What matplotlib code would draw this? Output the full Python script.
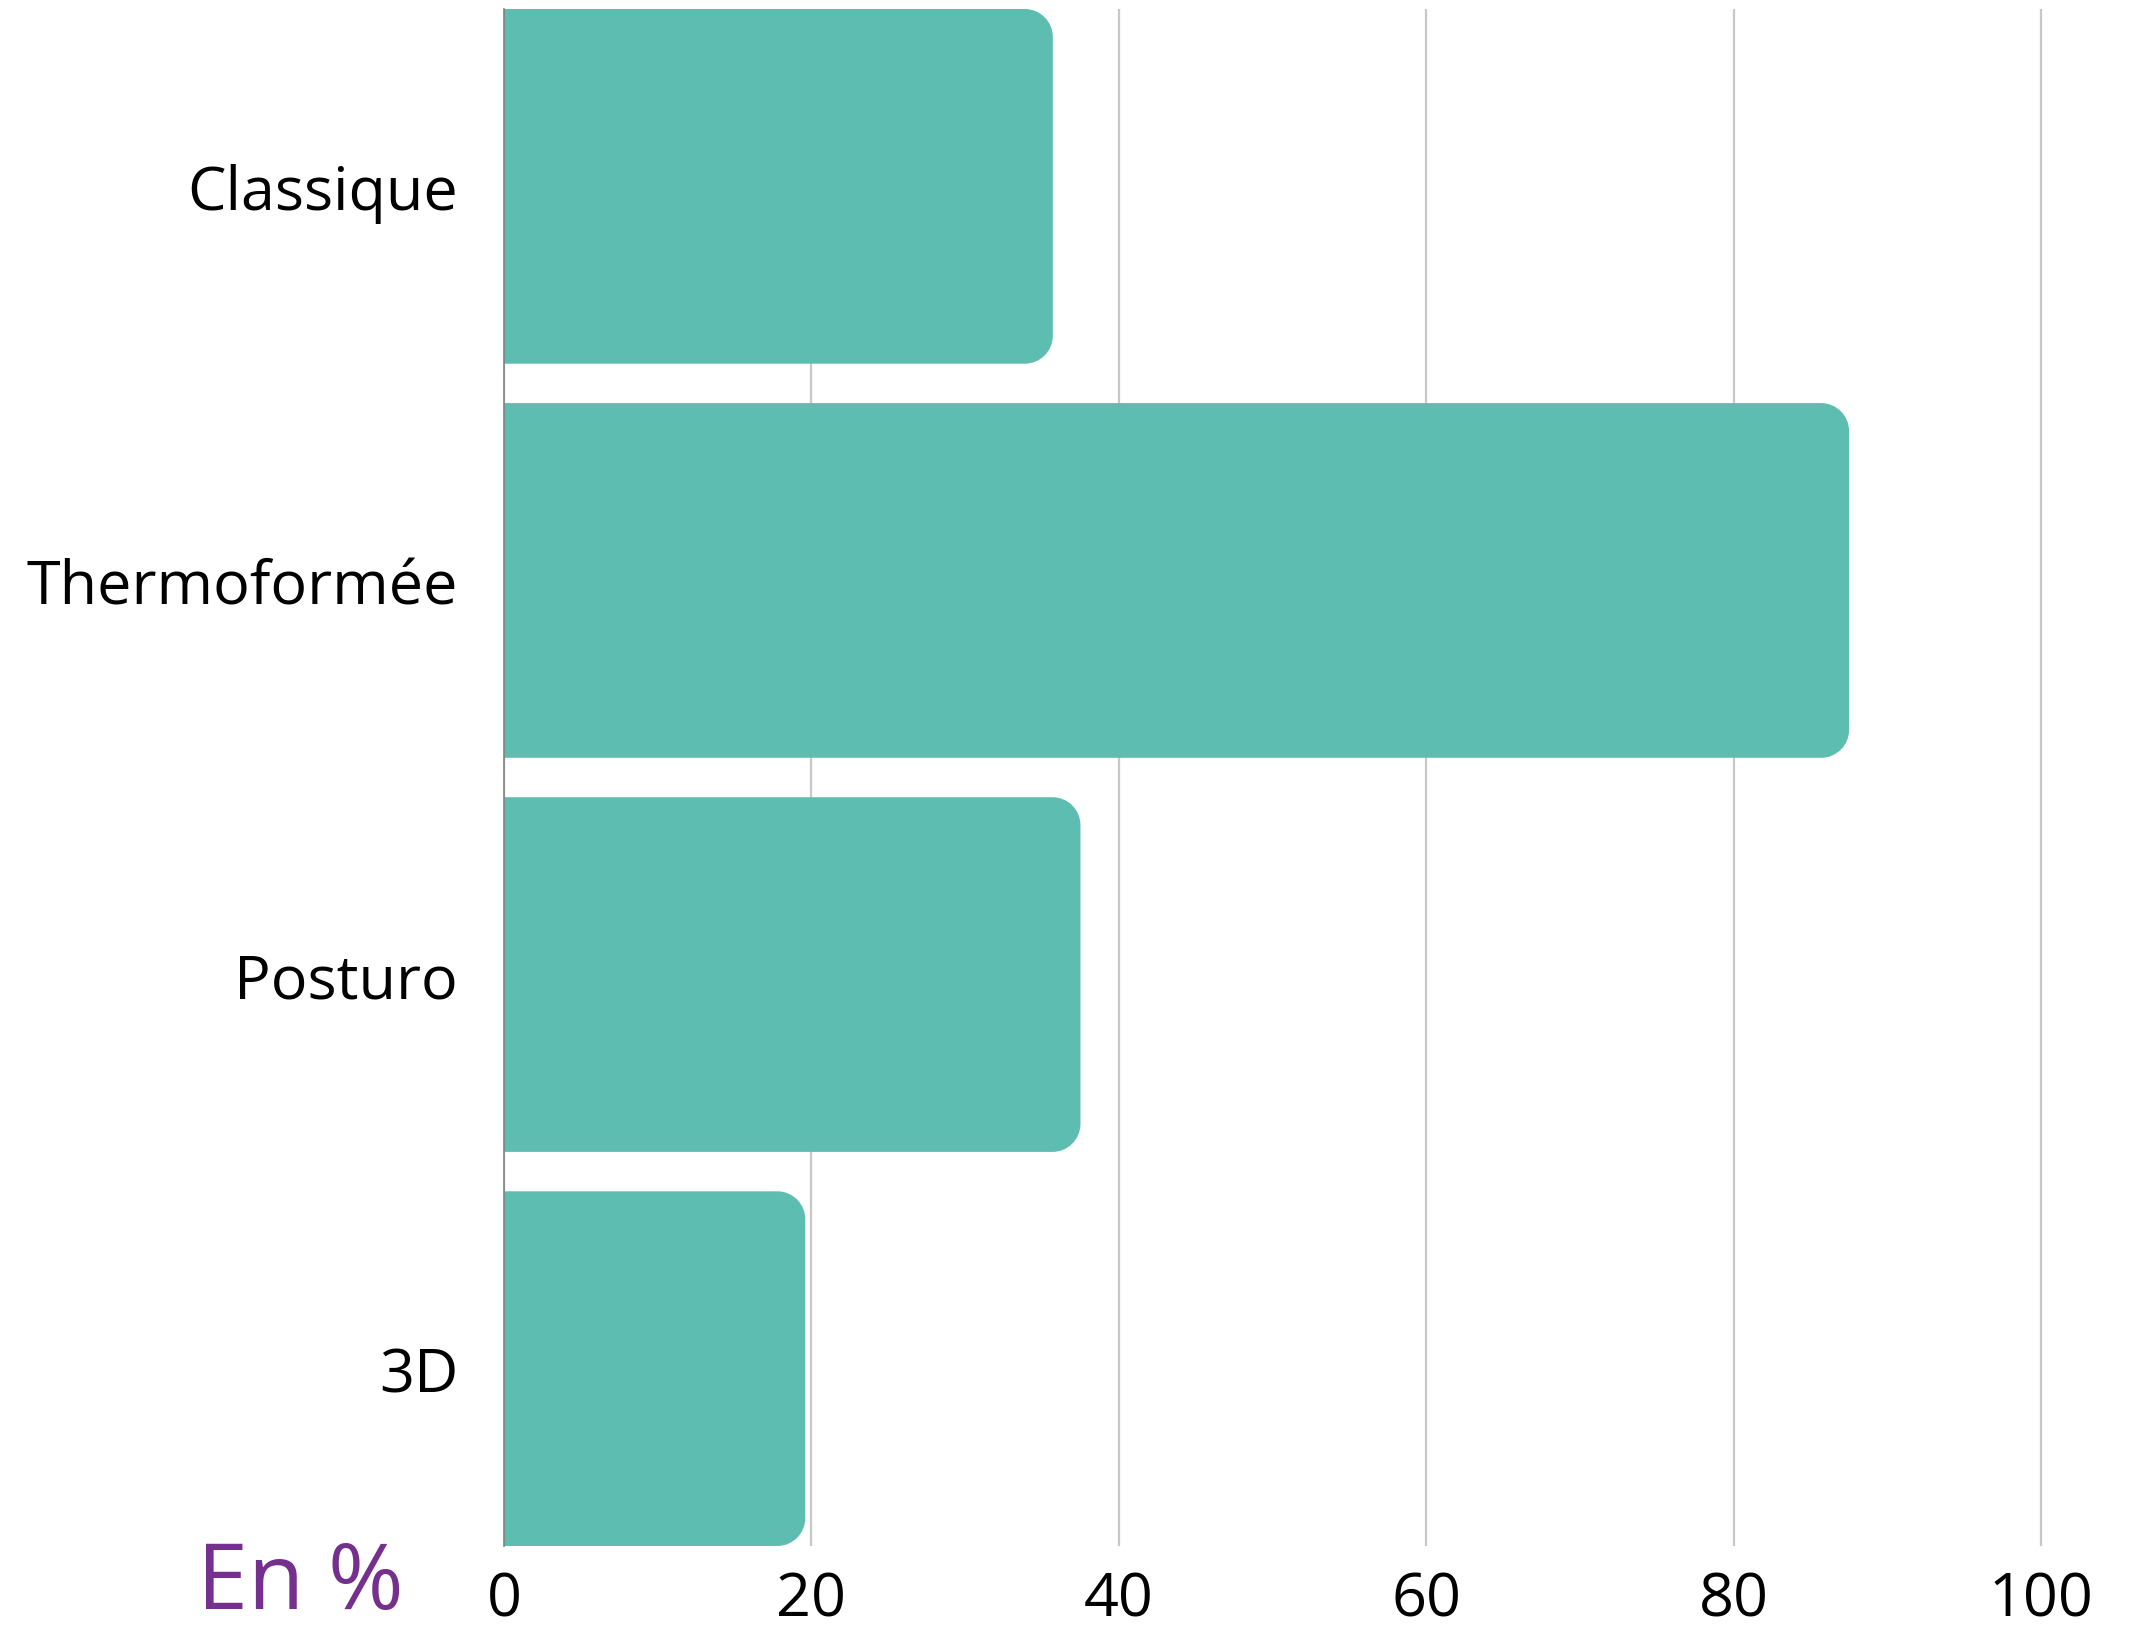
import matplotlib
matplotlib.use('Agg')
import matplotlib.pyplot as plt
from matplotlib.patches import PathPatch
from matplotlib.path import Path

# données
categories = ['Classique', 'Thermoformée', 'Posturo', '3D']
valeurs = [35.7, 87.5, 37.5, 19.6]
ticks_x = [0, 20, 40, 60, 80, 100]

couleur_barre = '#5EBDB1'
plt.rcParams['font.family'] = ['Open Sans', 'DejaVu Sans']

W, H, DPI = 2132, 1631, 100
fig = plt.figure(figsize=(W / DPI, H / DPI), dpi=DPI)
ax = fig.add_axes([504 / W, 84 / H, 1568 / W, 1537 / H])

xmax = 102
ax.set_xlim(0, xmax)
ax.set_ylim(3.45, -0.45)

# barres de base (pour la géométrie), puis bout arrondi à droite
bars = ax.barh(range(len(categories)), valeurs, height=0.9, color=couleur_barre, alpha=0)

# échelle en pixels pour que l'arrondi soit bien circulaire
px_x = 1568 / xmax
px_y = 1537 / 3.9
rayon = 28
rx, ry = rayon / px_x, rayon / px_y
k = 0.5523  # approximation de Bézier pour un quart de cercle


def barre_arrondie(x0, y0, w, h):
    x1, y1 = x0 + w, y0 + h
    verts = [
        (x0, y0),
        (x1 - rx, y0),
        (x1 - rx + k * rx, y0), (x1, y0 + ry - k * ry), (x1, y0 + ry),
        (x1, y1 - ry),
        (x1, y1 - ry + k * ry), (x1 - rx + k * rx, y1), (x1 - rx, y1),
        (x0, y1),
        (x0, y0),
    ]
    codes = [Path.MOVETO, Path.LINETO,
             Path.CURVE4, Path.CURVE4, Path.CURVE4,
             Path.LINETO,
             Path.CURVE4, Path.CURVE4, Path.CURVE4,
             Path.LINETO, Path.CLOSEPOLY]
    return Path(verts, codes)


for b in bars:
    p = barre_arrondie(b.get_x(), b.get_y(), b.get_width(), b.get_height())
    ax.add_patch(PathPatch(p, facecolor=couleur_barre, edgecolor='none', zorder=3))

ax.set_yticks(range(len(categories)))
ax.set_yticklabels(categories)
ax.set_xticks(ticks_x)
ax.set_xticklabels([str(t) for t in ticks_x])
ax.tick_params(axis='y', length=0, pad=33, labelsize=44)
ax.tick_params(axis='x', length=0, pad=17, labelsize=44)

ax.grid(axis='x', color='#C8C8C8', linewidth=1.6, zorder=0)
ax.set_axisbelow(True)
for s in ['top', 'right', 'bottom']:
    ax.spines[s].set_visible(False)
ax.spines['left'].set_color('#808080')
ax.spines['left'].set_linewidth(1.2)
ax.spines['left'].set_zorder(4)

fig.text(197 / W, 1 - 1609 / H, 'En %', fontsize=66, color='#74308C',
         ha='left', va='baseline')

fig.savefig('out.png', dpi=DPI, facecolor='white')
